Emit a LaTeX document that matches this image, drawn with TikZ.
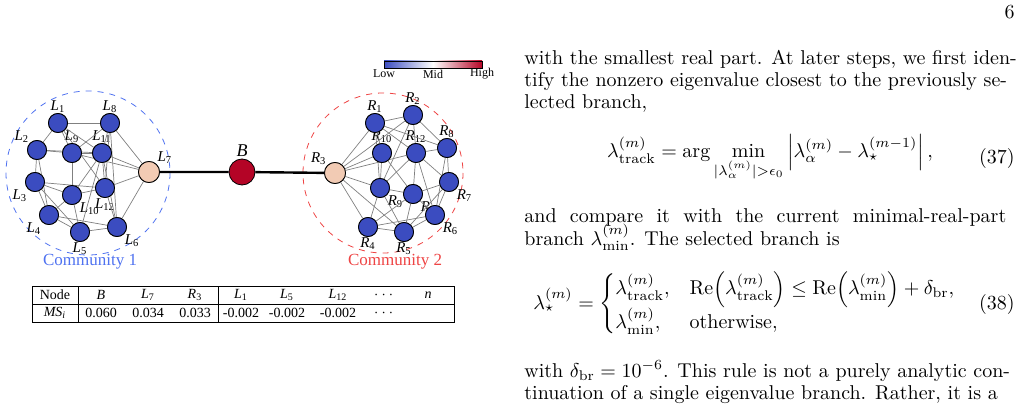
\documentclass[tikz,border=0pt]{standalone}
\usepackage{amsmath,amssymb}
\usepackage{fontspec}
\newfontfamily\figfont{Liberation Serif}
\definecolor{nodeblue}{HTML}{3B4CC0}
\definecolor{peach}{HTML}{F2CBB4}
\definecolor{bridge}{HTML}{B40426}
\definecolor{comblue}{HTML}{4F72F0}
\definecolor{comred}{HTML}{EE4444}
\newcommand{\lab}[2]{\textit{#1}\textsubscript{#2}}
\begin{document}
\begin{tikzpicture}[x=0.5pt,y=-0.5pt,
    vnode/.style={draw=black, circle, fill=nodeblue, minimum size=9.5pt, inner sep=0pt},
    hub/.style={draw=black, circle, fill=peach, minimum size=10.5pt, inner sep=0pt},
    lnk/.style={draw=gray, line width=0.35pt},
    nlab/.style={font=\figfont\fontsize{7.5}{8}\selectfont, inner sep=0.2pt},
    tab/.style={font=\figfont\fontsize{7}{8}\selectfont, inner sep=0pt},
    txt/.style={anchor=base west, inner sep=0pt, font=\fontsize{10}{11}\selectfont}]
\useasboundingbox (0,0) rectangle (1020,406);
\node[font=\fontsize{10}{11}\selectfont, anchor=base east, inner sep=0pt] (page) at (1015,19) {6};

% communities
\draw[comblue, dashed, line width=0.4pt] (88,173) circle (82);
\draw[comred, dashed, line width=0.4pt] (383,173) circle (80);
\node[text=comblue, font=\figfont\fontsize{8.5}{9}\selectfont] (c1) at (90,262) {Community 1};
\node[text=comred, font=\figfont\fontsize{8.5}{9}\selectfont] (c2) at (395,262) {Community 2};

% left nodes
\foreach \n/\x/\y/\p in {1/58/123/above, 8/110/123/above, 2/37/150/above left, 9/72/153/above,
    11/102/153/above, 3/35/182/below left, 10/72/195/below right, 12/105/188/below,
    4/49/215/below left, 5/80/232/below, 6/117/227/below right}
  \node[vnode, label={[nlab]\p:\lab{L}{\n}}] (L\n) at (\x,\y) {};
\node[hub, label={[nlab]above right:\lab{L}{7}}] (L7) at (149,172) {};
% right nodes
\foreach \n/\x/\y/\p in {1/375/123/above, 2/413/115/above, 10/382/153/above, 12/416/153/above,
    8/447/148/above, 9/380/188/below right, 11/413/194/below right, 7/449/182/below right,
    6/435/215/below right, 4/368/227/below, 5/404/232/below}
  \node[vnode, label={[nlab]\p:\lab{R}{\n}}] (R\n) at (\x,\y) {};
\node[hub, label={[nlab]above left:\lab{R}{3}}] (R3) at (335,173) {};
\node[circle, draw=black, fill=bridge, minimum size=13pt, inner sep=0pt,
  label={[font=\figfont\itshape\small, inner sep=1pt]above:B}] (B) at (242,172) {};

\foreach \a/\b in {1/8,1/2,1/9,1/11,1/12,8/9,8/11,8/12,8/6,8/7,2/9,2/3,2/4,2/11,9/11,9/7,
    11/7,11/12,11/6,11/5,11/10,3/10,3/4,3/5,3/12,10/12,10/4,12/7,12/6,4/5,4/6,5/6,6/7,10/5,9/10}
  \draw[lnk] (L\a) -- (L\b);
\foreach \a/\b in {1/2,1/10,1/12,1/3,1/9,1/8,2/3,2/8,2/9,2/12,3/10,3/12,3/9,3/4,3/5,10/9,
    10/11,12/8,12/11,12/7,12/6,12/9,8/7,8/6,7/6,7/5,7/11,9/11,9/4,9/5,11/4,11/5,11/6,6/4,6/5,4/5}
  \draw[lnk] (R\a) -- (R\b);
\draw[line width=1.2pt] (L7) -- (B) -- (R3);
% redraw nodes on top
\foreach \n/\x/\y in {1/58/123,8/110/123,2/37/150,9/72/153,11/102/153,3/35/182,10/72/195,
    12/105/188,4/49/215,5/80/232,6/117/227}
  \node[vnode] at (\x,\y) {};
\foreach \n/\x/\y in {1/375/123,2/413/115,10/382/153,12/416/153,8/447/148,9/380/188,
    11/413/194,7/449/182,6/435/215,4/368/227,5/404/232}
  \node[vnode] at (\x,\y) {};
\node[hub] at (149,172) {};
\node[hub] at (335,173) {};

% colour bar
\shade[left color=nodeblue, right color=white, draw=none] (384,61) rectangle (433,68);
\shade[left color=white, right color=bridge, draw=none] (433,61) rectangle (482,68);
\draw[line width=0.3pt] (384,61) rectangle (482,68);
\foreach \t/\x in {Low/384,Mid/433,High/482}
  \node[font=\figfont\fontsize{6}{7}\selectfont, inner sep=0pt] (bar\t) at (\x,74) {\t};

% table
\draw[line width=0.4pt] (32,286) rectangle (454,322);
\draw[line width=0.3pt] (32,304) -- (454,304);
\draw[line width=0.3pt] (78,286) -- (78,322) (218,286) -- (218,322);
\foreach \x/\t in {55/Node,101/\textit{B},148/\lab{L}{7},195/\lab{R}{3},241/\lab{L}{1},
    287/\lab{L}{5},338/\lab{L}{12},385/$\cdots$,428/\textit{n}}
  \node[tab] at (\x,295) {\t};
\foreach \x/\t in {55/\textit{MS\textsubscript{i}},101/0.060,148/0.034,195/0.033,241/-0.002,
    287/-0.002,338/-0.002,385/$\cdots$}
  \node[tab] at (\x,313) {\t};

% text column
\node[txt] (t1) at (524,65) {with the smallest real part. At later steps, we first iden-};
\node[txt] (t2) at (524,87) {tify the nonzero eigenvalue closest to the previously se-};
\node[txt] (t3) at (524,109) {lected branch,};
\node[txt, anchor=center] (eq37) at (770,158) {$\displaystyle\lambda^{(m)}_{\mathrm{track}}=\arg\min_{|\lambda^{(m)}_\alpha|>\epsilon_0}\left|\lambda^{(m)}_\alpha-\lambda^{(m-1)}_\star\right|,$};
\node[txt, anchor=east] (n37) at (1015,158) {(37)};
\node[txt] (t4) at (524,222) {and\ \ compare\ \ it\ \ with\ \ the\ \ current\ \ minimal-real-part};
\node[txt] (t5) at (524,245) {branch $\lambda^{(m)}_{\min}$. The selected branch is};
\node[txt, anchor=center] (eq38) at (745,304) {$\displaystyle\lambda^{(m)}_\star=\begin{cases}\lambda^{(m)}_{\mathrm{track}}, & \mathrm{Re}\Bigl(\lambda^{(m)}_{\mathrm{track}}\Bigr)\le\mathrm{Re}\Bigl(\lambda^{(m)}_{\min}\Bigr)+\delta_{\mathrm{br}},\\ \lambda^{(m)}_{\min}, & \text{otherwise},\end{cases}$};
\node[txt, anchor=east] (n38) at (1015,304) {(38)};
\node[txt] (t6) at (524,377) {with $\delta_{\mathrm{br}}=10^{-6}$. This rule is not a purely analytic con-};
\node[txt] (t7) at (524,399) {tinuation of a single eigenvalue branch. Rather, it is a};
\end{tikzpicture}
\end{document}
